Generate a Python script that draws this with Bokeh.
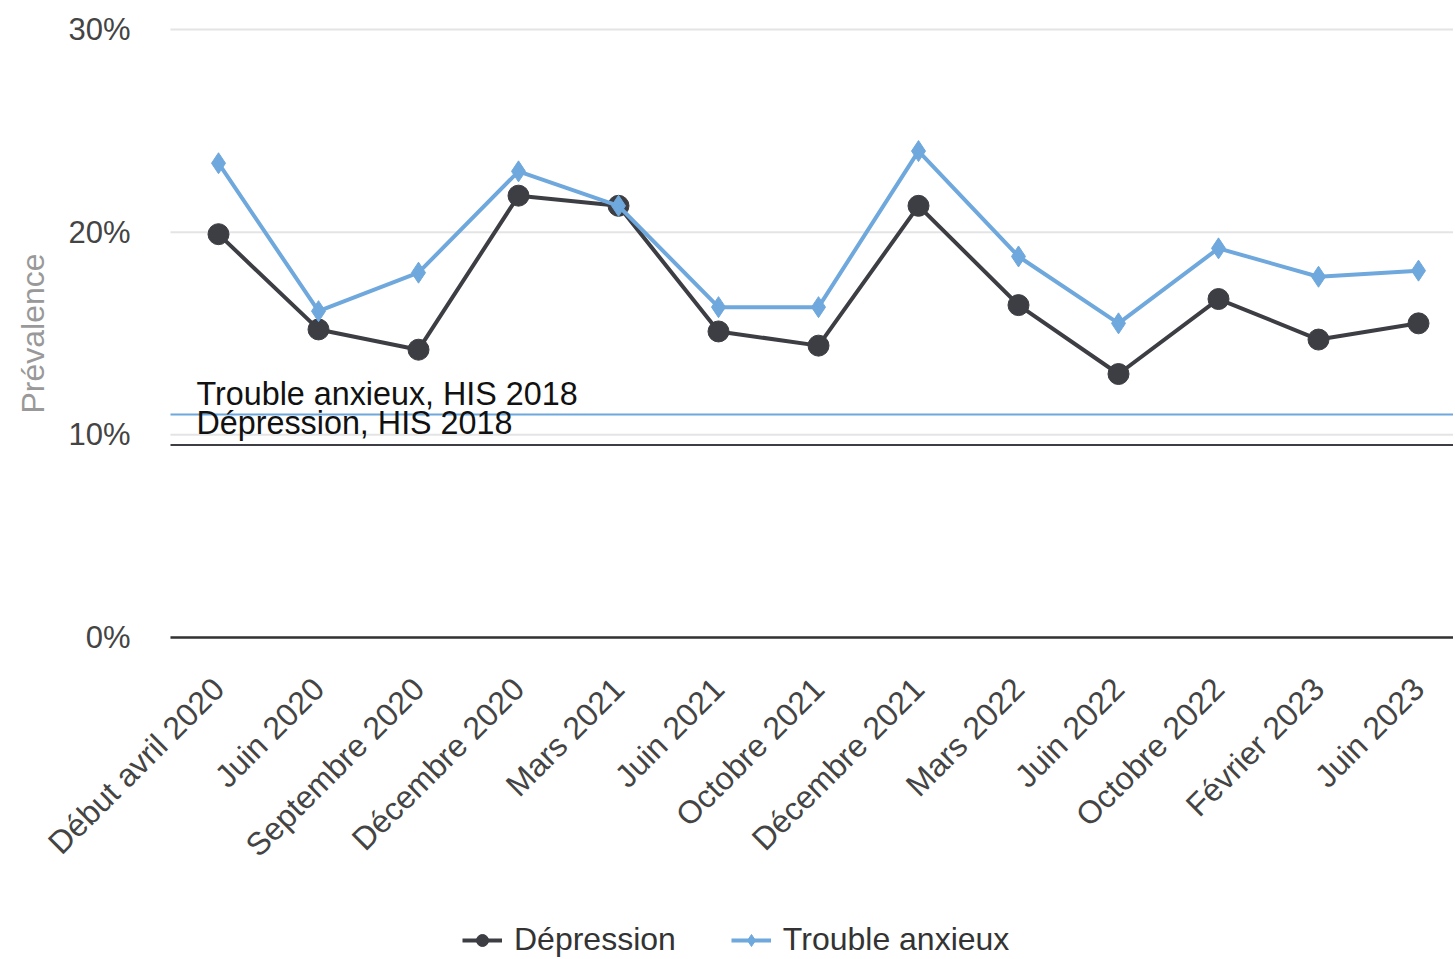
import math
from bokeh.plotting import figure
from bokeh.models import (ColumnDataSource, Range1d, FixedTicker, PrintfTickFormatter,
                          Label, Legend, LegendItem)
from bokeh.embed import file_html
from bokeh.resources import INLINE

# ---- data ----
categories = ["Début avril 2020", "Juin 2020", "Septembre 2020", "Décembre 2020",
              "Mars 2021", "Juin 2021", "Octobre 2021", "Décembre 2021",
              "Mars 2022", "Juin 2022", "Octobre 2022", "Février 2023", "Juin 2023"]
depression = [19.9, 15.2, 14.2, 21.8, 21.3, 15.1, 14.4, 21.3, 16.4, 13.0, 16.7, 14.7, 15.5]
trouble_anxieux = [23.4, 16.1, 18.0, 23.0, 21.3, 16.3, 16.3, 24.0, 18.8, 15.5, 19.2, 17.8, 18.1]
depression_his_2018 = 9.5
anxieux_his_2018 = 11.0
y_ticks = [0, 10, 20, 30]

FONT = "Liberation Sans"
DARK = "#3d3e44"
BLUE = "#6fa8dc"
GRID = "#e4e4e4"

idx = list(range(len(categories)))
src = ColumnDataSource(dict(x=idx, dep=depression, anx=trouble_anxieux))

# plotting-area left edge (where the y axis sits), in x-index units
AXIS_X = -0.48
X_END = 12.35

# the frame covers the whole canvas; axes are pinned inside it with fixed_location
p = figure(frame_width=1453, frame_height=958, output_backend="svg", toolbar_location=None,
           x_range=Range1d(-2.18, X_END), y_range=Range1d(-15.84, 31.43),
           min_border_left=0, min_border_right=0, min_border_top=0, min_border_bottom=0)
p.outline_line_color = None
p.xgrid.grid_line_color = None
p.ygrid.grid_line_color = None

# horizontal grid lines starting at the y axis
p.ray(x=[AXIS_X] * len(y_ticks), y=y_ticks, length=0, angle=0,
      line_color=GRID, line_width=2)

# x axis
p.xaxis.fixed_location = 0
p.xaxis.bounds = (AXIS_X, X_END)
p.xaxis.ticker = FixedTicker(ticks=idx)
p.xaxis.major_label_overrides = {i: c for i, c in zip(idx, categories)}
p.xaxis.major_label_orientation = math.pi / 4
p.xaxis.major_label_text_font = FONT
p.xaxis.major_label_text_font_size = "32px"
p.xaxis.major_label_text_color = "#444444"
p.xaxis.major_label_standoff = 40
p.xaxis.major_tick_line_color = None
p.xaxis.minor_tick_line_color = None
p.xaxis.axis_line_color = "#333333"
p.xaxis.axis_line_width = 2.5

# y axis
p.yaxis.fixed_location = AXIS_X
p.yaxis.ticker = FixedTicker(ticks=y_ticks)
p.yaxis.formatter = PrintfTickFormatter(format="%d%%")
p.yaxis.major_label_text_font = FONT
p.yaxis.major_label_text_font_size = "31px"
p.yaxis.major_label_text_color = "#444444"
p.yaxis.major_label_standoff = 34
p.yaxis.major_tick_line_color = None
p.yaxis.minor_tick_line_color = None
p.yaxis.axis_line_color = None

p.add_layout(Label(x=AXIS_X, y=(y_ticks[0] + y_ticks[-1]) / 2, x_offset=-138,
                   text="Prévalence", angle=math.pi / 2, text_align="center",
                   text_baseline="middle", text_font=FONT, text_font_size="32px",
                   text_color="#999999"))

# reference lines (HIS 2018)
p.ray(x=[AXIS_X], y=[anxieux_his_2018], length=0, angle=0, line_color=BLUE, line_width=2)
p.ray(x=[AXIS_X], y=[depression_his_2018], length=0, angle=0, line_color=DARK, line_width=2)
p.add_layout(Label(x=AXIS_X, y=anxieux_his_2018, x_offset=26, y_offset=21,
                   text="Trouble anxieux, HIS 2018",
                   text_font=FONT, text_font_size="32.3px", text_color="#111111",
                   text_baseline="alphabetic"))
p.add_layout(Label(x=AXIS_X, y=depression_his_2018, x_offset=26, y_offset=22,
                   text="Dépression, HIS 2018",
                   text_font=FONT, text_font_size="32.3px", text_color="#111111",
                   text_baseline="alphabetic"))

# series
l1 = p.line("x", "dep", source=src, line_color=DARK, line_width=4)
s1 = p.scatter("x", "dep", source=src, marker="circle", size=21, fill_color=DARK, line_color=DARK)
l2 = p.line("x", "anx", source=src, line_color=BLUE, line_width=4)
s2 = p.scatter("x", "anx", source=src, marker="diamond", size=21, fill_color=BLUE, line_color=BLUE)

legend = Legend(items=[LegendItem(label="Dépression", renderers=[l1, s1]),
                       LegendItem(label="Trouble anxieux", renderers=[l2, s2])],
                orientation="horizontal", location=(462, 0),
                label_text_font=FONT, label_text_font_size="32px", label_text_color="#333333",
                glyph_width=40, glyph_height=30, label_standoff=12, spacing=55,
                border_line_color=None, background_fill_alpha=0, padding=0, margin=0)
p.add_layout(legend, "center")

open("out.html", "w").write(file_html(p, INLINE))
